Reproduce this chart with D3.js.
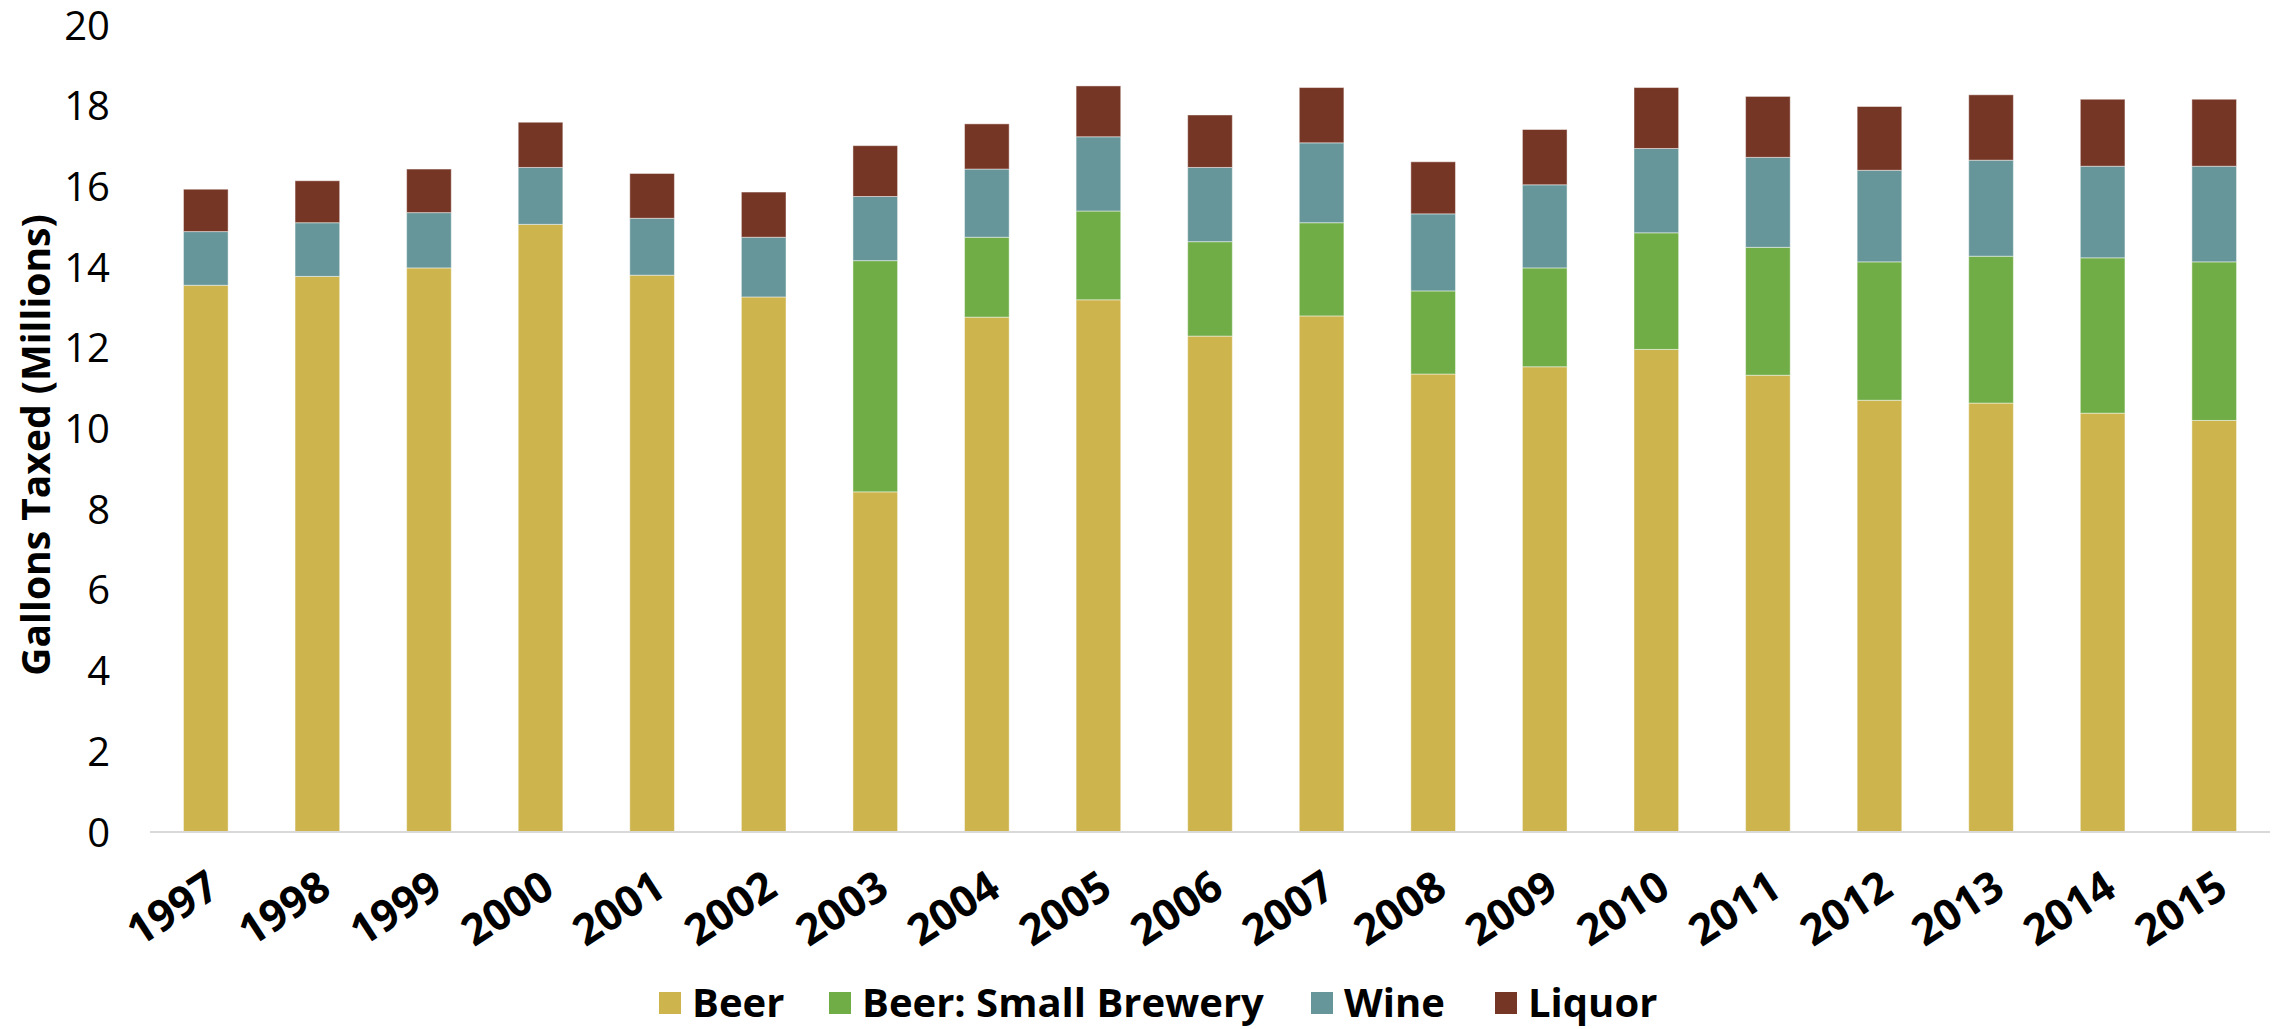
<!DOCTYPE html>
<html>
<head>
<meta charset="utf-8">
<script src="https://cdn.jsdelivr.net/npm/d3@7"></script>
<style>
  body { margin: 0; background: #fff; }
  svg text { font-family: "Open Sans", "Noto Sans", sans-serif; fill: #000; }
</style>
</head>
<body>
<svg id="chart" width="2280" height="1029"></svg>
<script>
// gallons taxed, millions
const years = ["1997","1998","1999","2000","2001","2002","2003","2004","2005","2006",
               "2007","2008","2009","2010","2011","2012","2013","2014","2015"];
const beer   = [13.55,13.77,13.98,15.06,13.80,13.26,8.43,12.76,13.19,12.29,12.79,11.35,11.53,11.96,11.32,10.70,10.63,10.38,10.20];
const small  = [0,0,0,0,0,0,5.73,1.98,2.20,2.34,2.31,2.06,2.45,2.89,3.17,3.43,3.64,3.85,3.93];
const wine   = [1.33,1.33,1.37,1.41,1.41,1.48,1.59,1.69,1.84,1.84,1.98,1.91,2.06,2.09,2.23,2.27,2.38,2.27,2.37];
const liquor = [1.05,1.04,1.08,1.12,1.11,1.12,1.26,1.12,1.26,1.30,1.37,1.29,1.37,1.51,1.51,1.58,1.62,1.66,1.66];
const seriesNames = ["Beer", "Beer: Small Brewery", "Wine", "Liquor"];
const yTicks = [0,2,4,6,8,10,12,14,16,18,20];

const colors = ["#CDB44C", "#70AD47", "#66969A", "#763626"];

const svg = d3.select("#chart");

const rows = years.map((y, i) => ({
  year: y, "Beer": beer[i], "Beer: Small Brewery": small[i], "Wine": wine[i], "Liquor": liquor[i]
}));

const x = d3.scaleBand().domain(years).range([150, 2270]).paddingInner(0.6).paddingOuter(0.3);
const y = d3.scaleLinear().domain([0, 20]).range([832, 25]);
const color = d3.scaleOrdinal().domain(seriesNames).range(colors);

const stacked = d3.stack().keys(seriesNames)(rows);

svg.append("g")
  .selectAll("g")
  .data(stacked)
  .enter().append("g")
    .attr("fill", d => color(d.key))
  .selectAll("rect")
  .data(d => d)
  .enter().append("rect")
    .attr("x", d => x(d.data.year))
    .attr("width", x.bandwidth())
    .attr("y", d => y(d[1]))
    .attr("height", d => y(d[0]) - y(d[1]))
    .attr("stroke", "#fff")
    .attr("stroke-opacity", 0.45)
    .attr("stroke-width", 1);

// baseline
svg.append("line")
  .attr("x1", 150).attr("x2", 2270)
  .attr("y1", y(0)).attr("y2", y(0))
  .attr("stroke", "#d9d9d9").attr("stroke-width", 2);

// y axis labels only
const yAxis = svg.append("g")
  .attr("transform", "translate(110,0)")
  .call(d3.axisLeft(y).tickValues(yTicks).tickSize(0).tickPadding(0));
yAxis.select(".domain").remove();
yAxis.selectAll("text")
  .style("font-size", "40px")
  .attr("dy", "0.35em");

// x axis labels, rotated
const xAxis = svg.append("g")
  .attr("transform", "translate(0," + y(0) + ")")
  .call(d3.axisBottom(x).tickSize(0).tickPadding(0));
xAxis.select(".domain").remove();
xAxis.selectAll("text")
  .style("font-size", "43px")
  .style("font-weight", "bold")
  .attr("text-anchor", "end")
  .attr("dy", null)
  .attr("y", 0)
  .attr("transform", "translate(16,62) rotate(-33)");

svg.append("text")
  .attr("transform", "translate(50,445) rotate(-90)")
  .attr("text-anchor", "middle")
  .style("font-size", "39px")
  .style("font-weight", "bold")
  .text("Gallons Taxed (Millions)");

// legend
const legendX = [659, 829, 1311, 1495];
const legend = svg.append("g").attr("transform", "translate(0,992)");
const item = legend.selectAll("g")
  .data(seriesNames)
  .enter().append("g")
    .attr("transform", (d, i) => "translate(" + legendX[i] + ",0)");
item.append("rect")
  .attr("width", 22).attr("height", 22)
  .attr("fill", d => color(d));
item.append("text")
  .attr("x", 33).attr("y", 11)
  .attr("dy", "0.36em")
  .style("font-size", "40px")
  .style("font-weight", "bold")
  .text(d => d);
</script>
</body>
</html>
